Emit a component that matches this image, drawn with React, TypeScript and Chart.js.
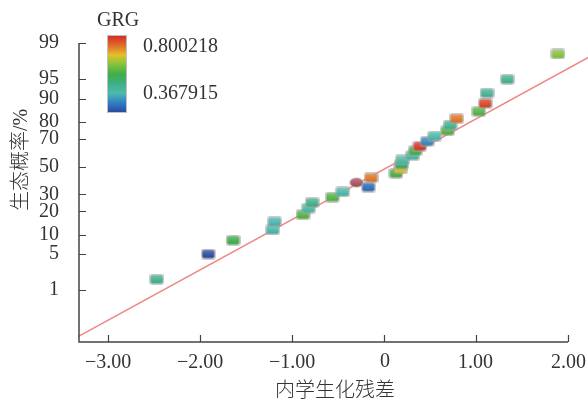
import React, { useEffect, useRef } from 'react';
import { Chart, Scale, registerables } from 'chart.js';

// ---------- data ----------
const Y_TICKS = [1, 5, 10, 20, 30, 50, 70, 80, 90, 95, 99];
const X_TICKS = [-3, -2, -1, 0, 1, 2];
const X_TICK_LABELS = ['\u22123.00', '\u22122.00', '\u22121.00', '0', '1.00', '2.00'];
const X_MIN = -3.315;
const X_MAX = 2;
const Y_MIN = 0.0483;
const Y_MAX = 99;

// studentized residuals (x)
const residuals = [
  -2.47, -1.91, -1.64, -1.21, -1.19, -0.88, -0.82, -0.78, -0.56, -0.45,
  -0.17, -0.3, -0.14, 0.13, 0.18, 0.19, 0.2, 0.31, 0.34, 0.39,
  0.47, 0.55, 0.69, 0.72, 0.79, 1.03, 1.1, 1.12, 1.34, 1.89,
];
// normal probability (%)
const probability = [
  1.7, 5.0, 8.3, 11.7, 15.0, 18.3, 21.7, 25.0, 28.3, 31.7,
  35.0, 38.3, 41.7, 45.0, 48.3, 51.7, 55.0, 58.3, 61.7, 65.0,
  68.3, 71.7, 75.0, 78.3, 81.7, 85.0, 88.3, 91.7, 95.0, 98.3,
];
// GRG value of each run (colour)
const grg = [
  0.52, 0.37, 0.58, 0.47, 0.47, 0.6, 0.48, 0.52, 0.6, 0.48,
  0.4, 0.8, 0.74, 0.59, 0.69, 0.56, 0.48, 0.48, 0.59, 0.79,
  0.43, 0.48, 0.6, 0.51, 0.74, 0.6, 0.78, 0.51, 0.51, 0.64,
];
// marker shape of each run
const shapes = [
  'rect', 'rect', 'rect', 'rect', 'rect', 'rect', 'rect', 'rect', 'rect', 'rect',
  'rect', 'ellipse', 'rect', 'rect', 'rect', 'rect', 'rect', 'rect', 'rect', 'rect',
  'rect', 'rect', 'rect', 'rect', 'rect', 'rect', 'rect', 'rect', 'rect', 'rect',
];
const GRG_MIN = 0.367915;
const GRG_MAX = 0.800218;
const GRG_LABELS = ['0.800218', '0.367915'];

// fitted normal reference line (endpoints)
const fitX = [-3.32, 2.23];
const fitY = [0.07, 98.05];

const X_TITLE = '内学生化残差';
const Y_TITLE = '生态概率/%';
const LEGEND_TITLE = 'GRG';

// ---------- styles ----------
const SERIF = '"Liberation Serif", "Times New Roman", serif';
const CJK = '"Liberation Serif", "Noto Sans CJK SC Light", "Noto Sans CJK SC", sans-serif';
const TEXT_COLOR = '#333333';
const AXIS_COLOR = '#4a4242';
const LINE_COLOR = '#ee8686';
const HIGHLIGHT_COLOR = '#a8545e';
const CMAP: [number, string][] = [
  [0.0, '#2b4a9e'],
  [0.12, '#2f7fc4'],
  [0.25, '#4dbbaa'],
  [0.38, '#3eae84'],
  [0.5, '#3fae48'],
  [0.64, '#8cc43c'],
  [0.75, '#e6c02a'],
  [0.87, '#e0702a'],
  [1.0, '#d62c26'],
];

function hexToRgb(h: string) {
  const n = parseInt(h.slice(1), 16);
  return [(n >> 16) & 255, (n >> 8) & 255, n & 255];
}
function colorFor(v: number) {
  let t = (v - GRG_MIN) / (GRG_MAX - GRG_MIN);
  t = Math.max(0, Math.min(1, t));
  for (let i = 1; i < CMAP.length; i++) {
    if (t <= CMAP[i][0]) {
      const [t0, c0] = CMAP[i - 1];
      const [t1, c1] = CMAP[i];
      const f = (t - t0) / (t1 - t0);
      const a = hexToRgb(c0);
      const b = hexToRgb(c1);
      const r = a.map((x, k) => Math.round(x + (b[k] - x) * f));
      return `rgb(${r[0]},${r[1]},${r[2]})`;
    }
  }
  return CMAP[CMAP.length - 1][1];
}

// ---------- normal distribution helpers ----------
function probit(p: number) {
  const a = [-3.969683028665376e1, 2.209460984245205e2, -2.759285104469687e2, 1.38357751867269e2, -3.066479806614716e1, 2.506628277459239];
  const b = [-5.447609879822406e1, 1.615858368580409e2, -1.556989798598866e2, 6.680131188771972e1, -1.328068155288572e1];
  const c = [-7.784894002430293e-3, -3.223964580411365e-1, -2.400758277161838, -2.549671015956700, 4.374664141464968, 2.938163982698783];
  const d = [7.784695709041462e-3, 3.224671290700398e-1, 2.445134137142996, 3.754408661907416];
  const pl = 0.02425;
  if (p <= 0) return -8;
  if (p >= 1) return 8;
  let q: number, r: number;
  if (p < pl) {
    q = Math.sqrt(-2 * Math.log(p));
    return (((((c[0] * q + c[1]) * q + c[2]) * q + c[3]) * q + c[4]) * q + c[5]) / ((((d[0] * q + d[1]) * q + d[2]) * q + d[3]) * q + 1);
  }
  if (p <= 1 - pl) {
    q = p - 0.5;
    r = q * q;
    return ((((((a[0] * r + a[1]) * r + a[2]) * r + a[3]) * r + a[4]) * r + a[5]) * q) / (((((b[0] * r + b[1]) * r + b[2]) * r + b[3]) * r + b[4]) * r + 1);
  }
  q = Math.sqrt(-2 * Math.log(1 - p));
  return -(((((c[0] * q + c[1]) * q + c[2]) * q + c[3]) * q + c[4]) * q + c[5]) / ((((d[0] * q + d[1]) * q + d[2]) * q + d[3]) * q + 1);
}
function normcdf(z: number) {
  const t = 1 / (1 + 0.3275911 * Math.abs(z) / Math.SQRT2);
  const y = 1 - (((((1.061405429 * t - 1.453152027) * t) + 1.421413741) * t - 0.284496736) * t + 0.254829592) * t * Math.exp(-z * z / 2);
  return z >= 0 ? 0.5 * (1 + y) : 0.5 * (1 - y);
}

// ---------- custom probability (probit) scale ----------
class ProbitScale extends Scale {
  static id = 'probit';
  static defaults = {};
  _zmin = -3;
  _zmax = 3;
  determineDataLimits() {
    const { min, max } = (this as any).getUserBounds();
    (this as any).min = min;
    (this as any).max = max;
  }
  buildTicks() {
    return Y_TICKS.map((v) => ({ value: v }));
  }
  getLabelForValue(v: number) {
    return String(v);
  }
  configure() {
    super.configure();
    this._zmin = probit((this as any).min / 100);
    this._zmax = probit((this as any).max / 100);
  }
  getPixelForValue(v: number) {
    const z = probit(v / 100);
    return (this as any).getPixelForDecimal((z - this._zmin) / (this._zmax - this._zmin));
  }
  getValueForPixel(px: number) {
    const dd = (this as any).getDecimalForPixel(px);
    return 100 * normcdf(this._zmin + dd * (this._zmax - this._zmin));
  }
}

Chart.register(...registerables, ProbitScale as any);

function makeMarker(color: string, shape: string) {
  const c = document.createElement('canvas');
  c.width = 15;
  c.height = 11;
  const g = c.getContext('2d')!;
  if (shape === 'ellipse') {
    g.fillStyle = 'rgba(160,160,160,0.5)';
    g.beginPath();
    g.ellipse(7.5, 5.5, 7.3, 5.3, 0, 0, Math.PI * 2);
    g.fill();
    g.fillStyle = color;
    g.beginPath();
    g.ellipse(7.5, 5.5, 6.2, 4.3, 0, 0, Math.PI * 2);
    g.fill();
  } else {
    g.fillStyle = 'rgba(160,160,160,0.55)';
    g.beginPath();
    (g as any).roundRect(0, 0, 15, 11, 3);
    g.fill();
    g.fillStyle = color;
    g.beginPath();
    (g as any).roundRect(1.5, 1.5, 12, 8, 2);
    g.fill();
  }
  const grad = g.createLinearGradient(0, 1, 0, 10);
  grad.addColorStop(0, 'rgba(255,255,255,0.25)');
  grad.addColorStop(0.5, 'rgba(255,255,255,0.08)');
  grad.addColorStop(1, 'rgba(0,0,0,0.08)');
  g.fillStyle = grad;
  g.beginPath();
  if (shape === 'ellipse') g.ellipse(7.5, 5.5, 6.2, 4.3, 0, 0, Math.PI * 2);
  else (g as any).roundRect(1.5, 1.5, 12, 8, 2);
  g.fill();
  return c;
}

const decorPlugin = {
  id: 'decor',
  afterDraw(chart: any) {
    const { ctx, chartArea: ca, scales } = chart;
    const xs = scales.x;
    const ys = scales.y;
    ctx.save();
    // axes
    ctx.strokeStyle = AXIS_COLOR;
    ctx.lineWidth = 1.5;
    ctx.beginPath();
    ctx.moveTo(ca.left, ca.top);
    ctx.lineTo(ca.left, ca.bottom);
    ctx.lineTo(ca.right, ca.bottom);
    ctx.stroke();
    // inward ticks
    ctx.lineWidth = 1.2;
    ctx.beginPath();
    for (const v of Y_TICKS) {
      const y = Math.round(ys.getPixelForValue(v)) + 0.5;
      ctx.moveTo(ca.left, y);
      ctx.lineTo(ca.left + 7, y);
    }
    for (const v of X_TICKS) {
      const x = Math.round(xs.getPixelForValue(v)) + 0.5;
      ctx.moveTo(x, ca.bottom);
      ctx.lineTo(x, ca.bottom - 7);
    }
    ctx.stroke();
    // x tick labels
    ctx.fillStyle = TEXT_COLOR;
    ctx.font = `20px ${SERIF}`;
    ctx.textAlign = 'left';
    ctx.textBaseline = 'alphabetic';
    X_TICKS.forEach((v, i) => {
      const label = X_TICK_LABELS[i];
      const w = ctx.measureText(label).width;
      const dx = v === 0 ? 1 : 0;
      const dy = v === 0 ? -1 : 0;
      ctx.fillText(label, Math.round(xs.getPixelForValue(v) - w / 2) + dx, ca.bottom + 26 + dy);
    });
    // axis titles
    ctx.textAlign = 'center';
    ctx.textBaseline = 'middle';
    ctx.font = `20px ${CJK}`;
    ctx.fillText(X_TITLE, 335, 392);
    ctx.save();
    ctx.translate(22, 160);
    ctx.rotate(-Math.PI / 2);
    ctx.fillText(Y_TITLE, 0, 0);
    ctx.restore();
    // colour legend
    ctx.font = `20px ${SERIF}`;
    ctx.textAlign = 'left';
    ctx.fillText(LEGEND_TITLE, 97, 21);
    const bx = 108, by = 36, bw = 18, bh = 76;
    const grad = ctx.createLinearGradient(0, by, 0, by + bh);
    for (const [t, col] of CMAP) grad.addColorStop(1 - t, col);
    ctx.fillStyle = 'rgba(150,150,150,0.6)';
    ctx.fillRect(bx - 1, by - 1, bw + 2, bh + 2);
    ctx.fillStyle = grad;
    ctx.fillRect(bx, by, bw, bh);
    ctx.fillStyle = TEXT_COLOR;
    ctx.fillText(GRG_LABELS[0], 143, 47);
    ctx.fillText(GRG_LABELS[1], 143, 94);
    ctx.restore();
  },
};

export default function App() {
  const ref = useRef<HTMLCanvasElement>(null);
  useEffect(() => {
    const markers = residuals.map((_, i) =>
      makeMarker(shapes[i] === 'ellipse' ? HIGHLIGHT_COLOR : colorFor(grg[i]), shapes[i])
    );
    const tickFont = { family: SERIF, size: 20 };
    const chart = new Chart(ref.current!, {
      type: 'scatter',
      data: {
        datasets: [
          {
            data: residuals.map((x, i) => ({ x, y: probability[i] })),
            pointStyle: (c: any) => markers[c.dataIndex] as any,
            pointRadius: 7,
            clip: false as any,
            order: 0,
          },
          {
            data: fitX.map((x, i) => ({ x, y: fitY[i] })),
            showLine: true,
            borderColor: LINE_COLOR,
            borderWidth: 1.6,
            pointRadius: 0,
            clip: false as any,
            order: 1,
          },
        ],
      },
      options: {
        animation: false,
        responsive: false,
        devicePixelRatio: 1,
        layout: { padding: { left: 0, right: 20, top: 43, bottom: 0 } },
        plugins: { legend: { display: false }, tooltip: { enabled: false } },
        scales: {
          x: {
            type: 'linear',
            min: X_MIN,
            max: X_MAX,
            bounds: 'data',
            grid: { display: false },
            border: { display: false },
            ticks: { display: false },
            afterBuildTicks: (s: any) => {
              s.ticks = X_TICKS.map((v) => ({ value: v }));
            },
            afterFit: (s: any) => {
              s.height = 61;
            },
          } as any,
          y: {
            type: 'probit',
            position: 'left',
            min: Y_MIN,
            max: Y_MAX,
            grid: { display: false },
            border: { display: false },
            ticks: {
              font: tickFont,
              color: TEXT_COLOR,
              padding: 12,
              autoSkip: false,
              callback: (v: any) => String(v),
            },
            afterFit: (s: any) => {
              s.width = 79;
            },
          } as any,
        },
      },
      plugins: [decorPlugin],
    });
    return () => chart.destroy();
  }, []);
  return (
    <div style={{ position: 'fixed', left: 0, top: 0, width: 588, height: 403, background: '#fff' }}>
      <canvas ref={ref} width={588} height={403} style={{ display: 'block' }} />
    </div>
  );
}
